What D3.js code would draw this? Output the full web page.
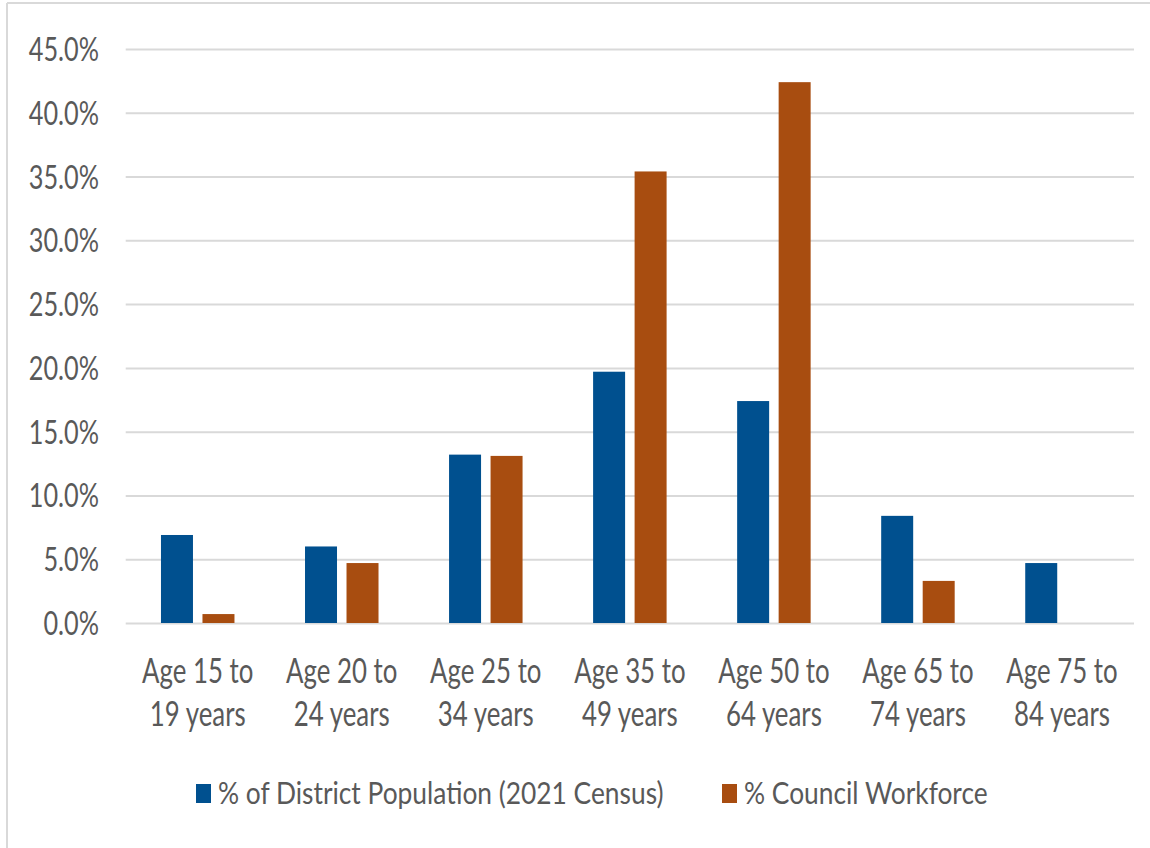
<!DOCTYPE html>
<html>
<head>
<meta charset="utf-8">
<script src="https://cdn.jsdelivr.net/npm/d3@7"></script>
<style>
  html, body { margin: 0; padding: 0; background: #fff; }
  svg text { font-family: Lato, "Open Sans", sans-serif; fill: #595959; }
</style>
</head>
<body>
<div id="chart"></div>
<script>
// --- data ---
const categories = ["Age 15 to 19 years", "Age 20 to 24 years", "Age 25 to 34 years",
  "Age 35 to 49 years", "Age 50 to 64 years", "Age 65 to 74 years", "Age 75 to 84 years"];
const labelLines = [["Age 15 to", "19 years"], ["Age 20 to", "24 years"], ["Age 25 to", "34 years"],
  ["Age 35 to", "49 years"], ["Age 50 to", "64 years"], ["Age 65 to", "74 years"], ["Age 75 to", "84 years"]];
const seriesNames = ["% of District Population (2021 Census)", "% Council Workforce"];
const districtPop = [6.9, 6.0, 13.2, 19.7, 17.4, 8.4, 4.7];
const councilWorkforce = [0.7, 4.7, 13.1, 35.4, 42.4, 3.3, 0];
const yTicks = [0, 5, 10, 15, 20, 25, 30, 35, 40, 45];

const COLORS = ["#00508F", "#A84D10"];
const W = 1150, H = 848;
// text in the original is squeezed sideways; these are the horizontal squeezes
const SX_Y = 0.79, SX_X = 0.76, SX_LEG = 0.85;

const svg = d3.select("#chart").append("svg")
  .attr("width", W).attr("height", H);

// outer frame (left + top only visible)
svg.append("line").attr("x1", 7).attr("x2", 7).attr("y1", 3).attr("y2", H)
  .attr("stroke", "#d9d9d9").attr("stroke-width", 2);
svg.append("line").attr("x1", 7).attr("x2", W).attr("y1", 3).attr("y2", 3)
  .attr("stroke", "#d9d9d9").attr("stroke-width", 2);

const x = d3.scaleBand().domain(categories).range([125.7, 1134]).padding(0);
const xs = d3.scaleBand().domain(seriesNames).range([0, x.bandwidth()])
  .paddingInner(0.229).paddingOuter(0.85);
const y = d3.scaleLinear().domain([0, 45]).range([623, 49]);

// gridlines
const grid = svg.append("g").attr("transform", "translate(125.7,0)")
  .call(d3.axisLeft(y).tickValues(yTicks).tickSize(-(1134 - 125.7)).tickFormat(""));
grid.select(".domain").remove();
grid.selectAll("line").attr("stroke", "#d9d9d9").attr("stroke-width", 2);

// y labels
const yAxis = svg.append("g").attr("transform", "translate(99,0)")
  .call(d3.axisLeft(y).tickValues(yTicks).tickSize(0).tickFormat(d => d.toFixed(1) + "%"));
yAxis.select(".domain").remove();
yAxis.selectAll("text")
  .attr("x", 0).attr("dy", "0.36em")
  .attr("transform", `scale(${SX_Y},1)`)
  .style("font-size", "32px").attr("fill", "#595959");

// bars
const rows = categories.map((c, i) => ({ cat: c, vals: [districtPop[i], councilWorkforce[i]] }));
const groups = svg.append("g").selectAll("g").data(rows).join("g")
  .attr("transform", d => `translate(${x(d.cat)},0)`);
groups.selectAll("rect")
  .data(d => d.vals.map((v, j) => ({ s: seriesNames[j], v, j })))
  .join("rect")
  .attr("x", d => xs(d.s))
  .attr("width", xs.bandwidth())
  .attr("y", d => y(d.v))
  .attr("height", d => y(0) - y(d.v))
  .attr("fill", d => COLORS[d.j]);

// x labels (two lines each)
const xAxis = svg.append("g").attr("transform", "translate(0,623)")
  .call(d3.axisBottom(x).tickSize(0).tickFormat(""));
xAxis.select(".domain").remove();
xAxis.selectAll(".tick").each(function (d, i) {
  const t = d3.select(this).append("text")
    .attr("text-anchor", "middle")
    .attr("transform", `scale(${SX_X},1)`)
    .style("font-size", "34px");
  labelLines[i].forEach((ln, k) => {
    t.append("tspan").attr("x", 0).attr("y", 60 + k * 43).text(ln);
  });
});

// legend
const legendX = [196, 722];
const legend = svg.append("g").selectAll("g").data(seriesNames).join("g")
  .attr("transform", (d, i) => `translate(${legendX[i]},0)`);
legend.append("rect").attr("x", 0).attr("y", 784).attr("width", 15).attr("height", 19)
  .attr("fill", (d, i) => COLORS[i]);
legend.append("text")
  .attr("transform", `translate(22,804) scale(${SX_LEG},1)`)
  .style("font-size", "31px")
  .text(d => d);
</script>
</body>
</html>
